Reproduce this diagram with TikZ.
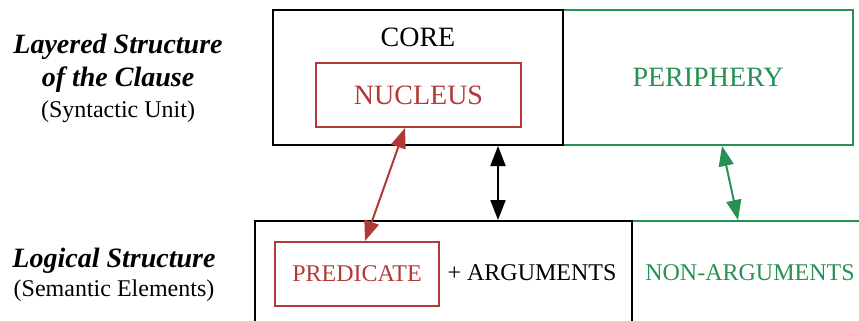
\documentclass[tikz,border=0pt]{standalone}
\usepackage{fontspec}
\setmainfont{Liberation Serif}
\usepackage{xcolor}
\usepackage{tikz}
\usetikzlibrary{arrows.meta,positioning,calc}
\definecolor{lsred}{RGB}{178,58,54}
\definecolor{lsgreen}{RGB}{38,145,82}
\tikzset{
  lsbox/.style={
    draw,
    rectangle,
    inner sep=0pt,
    line width=2pt,
    font=\fontsize{28}{33}\selectfont
  },
  lscore/.style={lsbox, draw=black},
  lsperiph/.style={lsbox, draw=lsgreen, text=lsgreen},
  lsnuc/.style={lsbox, draw=lsred, text=lsred},
  lstext/.style={inner sep=0pt, anchor=base, font=\fontsize{24}{28}\selectfont},
  lshead/.style={lstext, font=\fontsize{28}{33}\selectfont\bfseries\itshape},
  lsarrow/.style={{Triangle[length=20pt,width=15pt]}-{Triangle[length=20pt,width=15pt]}, line width=2pt}
}
\begin{document}
\begin{tikzpicture}[x=1pt, y=-1pt]
\useasboundingbox (0,0) rectangle (859,321);
\node[lshead] (lscA) at (118,53) {Layered Structure};
\node[lshead] (lscB) at (118,86) {of the Clause};
\node[lstext] (lscC) at (118,117) {(Syntactic Unit)};
\node[lshead] (lsA) at (114,267) {Logical Structure};
\node[lstext] (lsB) at (114,296) {(Semantic Elements)};
\node[lsperiph, minimum width=290pt, minimum height=135pt] (periphery) at (708,77.5) {PERIPHERY};
\node[lscore, minimum width=290pt, minimum height=135pt] (core) at (418,77.5) {};
\node[lstext, font=\fontsize{28}{33}\selectfont] (corelbl) at (418,47) {CORE};
\node[lsnuc, minimum width=205pt, minimum height=64pt] (nucleus) at (418.5,95) {NUCLEUS};
\node[lsperiph, minimum width=268pt, minimum height=124pt] (nonarg) at (766,283) {};
\node[lscore, minimum width=377pt, minimum height=124pt] (logical) at (443.5,283) {};
\node[lsnuc, minimum width=164pt, minimum height=64pt, font=\fontsize{24}{28}\selectfont] (predicate) at (357,274) {PREDICATE};
\node[lstext] (args) at (532,280) {+ ARGUMENTS};
\node[lstext, text=lsgreen] (nonarglbl) at (750,280) {NON-ARGUMENTS};
\draw[lsarrow, lsred] ([xshift=-13.5pt]nucleus.south) -- ([xshift=8pt]predicate.north);
\draw[lsarrow] ([xshift=80pt]core.south) -- ([xshift=54.5pt]logical.north);
\draw[lsarrow, lsgreen] ([xshift=14pt]periphery.south) -- ([xshift=-28pt]nonarg.north);
\end{tikzpicture}
\end{document}
